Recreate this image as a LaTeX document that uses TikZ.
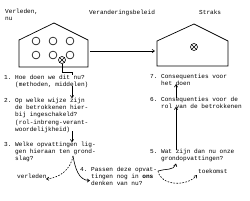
\documentclass[tikz,border=0pt]{standalone}
\usepackage{fontspec}
\setmonofont{Liberation Mono}
\usetikzlibrary{arrows.meta,calc}
\begin{document}
\begin{tikzpicture}[x=1pt,y=-1pt,
  txt/.style={font=\ttfamily\fontsize{6.1}{7.3}\selectfont, inner sep=0pt, align=left, anchor=north west},
  thin line/.style={line width=0.7pt},
  arr/.style={-{Straight Barb[length=2.4pt,width=3.2pt]}, line width=0.6pt},
  darr/.style={arr, dash pattern=on 1.6pt off 1.4pt},
  hole/.style={circle, draw, line width=0.6pt, minimum size=7.8pt, inner sep=0pt},
  xhole/.style={circle, draw, line width=0.6pt, minimum size=7pt, inner sep=0pt}]
\useasboundingbox (0,0) rectangle (250,201);
% headings
\node[txt] (hv) at (5,9) {Verleden,\\nu};
\node[txt, anchor=north] (hb) at (122,9.5) {Veranderingsbeleid};
\node[txt] (hs) at (199,9.5) {Straks};
% left house
\draw[thin line] (19,67) -- (19,40) -- (54,23) -- (88,40) -- (88,67) -- cycle;
\foreach \x in {36,53,70}{
  \node[hole] at (\x,41) {};
  \node[hole] at (\x,55) {};
}
\node[xhole, fill=white] (xl) at (62,60) {};
\draw[line width=0.6pt] (xl.north west) -- (xl.south east) (xl.north east) -- (xl.south west);
% right house
\draw[thin line] (157,66) -- (157,41) -- (194,24) -- (228,41) -- (228,66) -- cycle;
\node[xhole] (xr) at (194,47) {};
\draw[line width=0.6pt] (xr.north west) -- (xr.south east) (xr.north east) -- (xr.south west);
\coordinate (lhR) at (90,51);
\coordinate (rhL) at (155,51);
\draw[arr] (lhR) -- (rhL);
% items
\node[txt] (i1) at (4,74.5) {1.~Hoe doen we dit nu?\\\hphantom{1.~}(methoden, middelen)};
\node[txt] (i2) at (4,97.5) {2.~Op welke wijze zijn\\\hphantom{2.~}de betrokkenen hier-\\\hphantom{2.~}bij ingeschakeld?\\\hphantom{2.~}(rol-inbreng-verant-\\\hphantom{2.~}woordelijkheid)};
\node[txt] (i3) at (4,141.5) {3.~Welke opvattingen lig-\\\hphantom{3.~}gen hieraan ten grond-\\\hphantom{3.~}slag?};
\node[txt] (vl) at (17,173.5) {verleden};
\node[txt] (i4) at (80,166.5) {4.~Passen deze opvat-\\\hphantom{4.~}tingen nog in \textbf{ons}\\\hphantom{4.~}denken van nu?};
\node[txt] (tk) at (198,168.5) {toekomst};
\node[txt] (i5) at (150,148.5) {5.~Wat zijn dan nu onze\\\hphantom{5.~}grondopvattingen?};
\node[txt] (i6) at (150,96.5) {6.~Consequenties voor de\\\hphantom{6.~}rol van de betrokkenen};
\node[txt] (i7) at (150,73.5) {7.~Consequenties voor\\\hphantom{7.~}het doen};
% connectors
\coordinate (a1) at (72,0);
\coordinate (a2) at (176,0);
\coordinate (k1) at (72,72);
\draw[line width=0.6pt] (xl.south) |- (k1) -- (k1 |- i1.north);
\draw[arr] ([yshift=1.5pt]i1.south -| a1) -- ([yshift=-0.8pt]i2.north -| a1);
\draw[arr] ([yshift=1.5pt]i2.south -| a1) -- ([yshift=-0.8pt]i3.north -| a1);
\coordinate (s3) at (73,156);
\coordinate (t4) at (90,180.5);
\coordinate (t0) at (46,179);
\draw[arr] (s3) to[out=-80, in=180] (t4);
\draw[darr] (s3) to[out=-100, in=5] (t0);
\coordinate (s4) at (158,171);
\coordinate (t5) at (176,163.5);
\coordinate (t6) at (197,175);
\draw[arr] (s4) to[out=20, in=-105] (t5);
\draw[darr] (s4) to[out=-80, in=-130] (t6);
\draw[arr] ([yshift=-1pt]i5.north -| a2) -- ([yshift=2pt]i6.south -| a2);
\draw[arr] ([yshift=-1pt]i6.north -| a2) -- ([yshift=1.5pt]i7.south -| a2);
\end{tikzpicture}
\end{document}
